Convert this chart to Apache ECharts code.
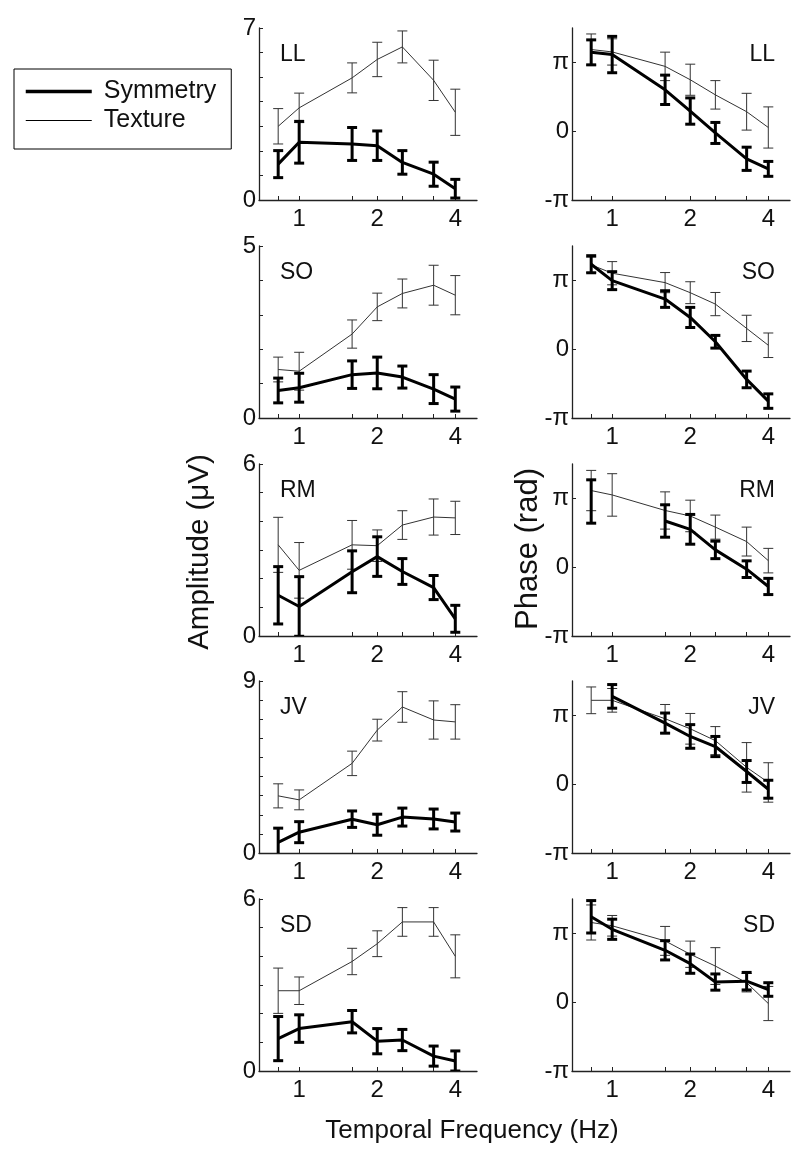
<!DOCTYPE html>
<html><head><meta charset="utf-8">
<script src="https://cdn.jsdelivr.net/npm/echarts@6/dist/echarts.min.js"></script>
<style>html,body{margin:0;padding:0;background:#fff}#c{width:800px;height:1163px}</style>
</head><body><div id="c"></div>
<script>
// ---------- data ----------
const FREQS = [0.83, 1, 1.6, 2, 2.5, 3.3, 4];          // Hz
const X_TICK_LABELS = [1, 2, 4];
const SUBJECTS = ['LL', 'SO', 'RM', 'JV', 'SD'];
const AMP_MAX = [7, 5, 6, 9, 6];
const PHASE_TICKS = [-Math.PI, 0, Math.PI];
const PHASE_TICK_LABELS = ['-π', '0', 'π'];
const SERIES_NAMES = ['Symmetry', 'Texture'];

// amplitude (µV): mean and error
const LL_AMP_SYM = [1.46, 2.35, 2.28, 2.21, 1.53, 1.05, 0.46];
const LL_AMP_SYM_ERR = [0.55, 0.85, 0.67, 0.60, 0.48, 0.49, 0.38];
const LL_AMP_TEX = [3.00, 3.75, 4.97, 5.72, 6.23, 4.87, 3.57];
const LL_AMP_TEX_ERR = [0.72, 0.60, 0.61, 0.70, 0.65, 0.82, 0.94];

const SO_AMP_SYM = [0.80, 0.88, 1.26, 1.31, 1.19, 0.84, 0.55];
const SO_AMP_SYM_ERR = [0.36, 0.42, 0.40, 0.46, 0.32, 0.42, 0.35];
const SO_AMP_TEX = [1.41, 1.36, 2.44, 3.23, 3.62, 3.86, 3.57];
const SO_AMP_TEX_ERR = [0.36, 0.55, 0.41, 0.40, 0.42, 0.58, 0.57];

const RM_AMP_SYM = [1.42, 1.03, 2.24, 2.77, 2.25, 1.69, 0.60];
const RM_AMP_SYM_ERR = [1.00, 1.04, 0.73, 0.69, 0.45, 0.42, 0.47];
const RM_AMP_TEX = [3.18, 2.29, 3.18, 3.15, 3.87, 4.15, 4.12];
const RM_AMP_TEX_ERR = [0.96, 0.97, 0.85, 0.55, 0.50, 0.63, 0.58];

const JV_AMP_SYM = [0.56, 1.09, 1.77, 1.48, 1.88, 1.78, 1.62];
const JV_AMP_SYM_ERR = [0.74, 0.55, 0.43, 0.55, 0.47, 0.52, 0.47];
const JV_AMP_TEX = [2.99, 2.78, 4.69, 6.43, 7.64, 6.96, 6.86];
const JV_AMP_TEX_ERR = [0.63, 0.52, 0.64, 0.57, 0.80, 1.00, 0.90];

const SD_AMP_SYM = [1.13, 1.48, 1.72, 1.04, 1.08, 0.52, 0.35];
const SD_AMP_SYM_ERR = [0.77, 0.48, 0.39, 0.44, 0.37, 0.35, 0.35];
const SD_AMP_TEX = [2.80, 2.80, 3.82, 4.44, 5.20, 5.20, 4.00];
const SD_AMP_TEX_ERR = [0.79, 0.48, 0.46, 0.45, 0.50, 0.50, 0.75];

// phase (rad): mean and error
const LL_PH_SYM = [3.60, 3.50, 1.89, 0.92, -0.08, -1.26, -1.72];
const LL_PH_SYM_ERR = [0.57, 0.83, 0.67, 0.60, 0.48, 0.53, 0.34];
const LL_PH_TEX = [3.73, 3.62, 2.96, 2.35, 1.66, 0.89, 0.17];
const LL_PH_TEX_ERR = [0.71, 0.60, 0.65, 0.71, 0.65, 0.84, 0.94];

const SO_PH_SYM = [3.88, 3.13, 2.29, 1.45, 0.34, -1.38, -2.37];
const SO_PH_SYM_ERR = [0.39, 0.41, 0.38, 0.46, 0.29, 0.38, 0.33];
const SO_PH_TEX = [3.85, 3.47, 3.04, 2.58, 2.06, 0.95, 0.18];
const SO_PH_TEX_ERR = [0.35, 0.53, 0.46, 0.50, 0.53, 0.60, 0.56];

const RM_PH_SYM = [3.00, null, 2.11, 1.73, 0.79, -0.09, -0.88];
const RM_PH_SYM_ERR = [0.99, null, 0.74, 0.68, 0.40, 0.38, 0.37];
const RM_PH_TEX = [3.50, 3.30, 2.59, 2.34, 1.83, 1.17, 0.30];
const RM_PH_TEX_ERR = [0.92, 0.97, 0.85, 0.72, 0.55, 0.66, 0.56];

const JV_PH_SYM = [null, 4.01, 2.79, 2.18, 1.72, 0.58, -0.23];
const JV_PH_SYM_ERR = [null, 0.54, 0.46, 0.54, 0.46, 0.50, 0.41];
const JV_PH_TEX = [3.83, 3.83, 2.99, 2.53, 1.99, 0.77, 0.08];
const JV_PH_TEX_ERR = [0.61, 0.54, 0.65, 0.70, 0.64, 1.13, 0.90];

const SD_PH_SYM = [3.90, 3.33, 2.37, 1.76, 0.92, 0.96, 0.58];
const SD_PH_SYM_ERR = [0.74, 0.46, 0.44, 0.44, 0.37, 0.40, 0.31];
const SD_PH_TEX = [3.64, 3.49, 2.80, 2.19, 1.65, 0.89, -0.06];
const SD_PH_TEX_ERR = [0.80, 0.47, 0.66, 0.60, 0.84, 0.42, 0.78];

const AMP = [
  [LL_AMP_SYM, LL_AMP_SYM_ERR, LL_AMP_TEX, LL_AMP_TEX_ERR],
  [SO_AMP_SYM, SO_AMP_SYM_ERR, SO_AMP_TEX, SO_AMP_TEX_ERR],
  [RM_AMP_SYM, RM_AMP_SYM_ERR, RM_AMP_TEX, RM_AMP_TEX_ERR],
  [JV_AMP_SYM, JV_AMP_SYM_ERR, JV_AMP_TEX, JV_AMP_TEX_ERR],
  [SD_AMP_SYM, SD_AMP_SYM_ERR, SD_AMP_TEX, SD_AMP_TEX_ERR]
];
const PHASE = [
  [LL_PH_SYM, LL_PH_SYM_ERR, LL_PH_TEX, LL_PH_TEX_ERR],
  [SO_PH_SYM, SO_PH_SYM_ERR, SO_PH_TEX, SO_PH_TEX_ERR],
  [RM_PH_SYM, RM_PH_SYM_ERR, RM_PH_TEX, RM_PH_TEX_ERR],
  [JV_PH_SYM, JV_PH_SYM_ERR, JV_PH_TEX, JV_PH_TEX_ERR],
  [SD_PH_SYM, SD_PH_SYM_ERR, SD_PH_TEX, SD_PH_TEX_ERR]
];

// ---------- layout / style ----------
const FONT = '"Liberation Sans", Arial, Helvetica, sans-serif';
const COL_LEFT = [259, 572];
const GRID_W = 218;
const ROW_TOP = [28, 246, 464, 681, 899];
const GRID_H = 172;
const X_MIN = 0.7, X_MAX = 4.85;
const AXIS_COLOR = '#222';
const TEXT_COLOR = '#111';
const SYM_STYLE = { color: '#000', width: 3 };
const TEX_STYLE = { color: '#333', width: 1 };

function errRender(st) {
  return function (params, api) {
    const x = api.value(0);
    const p1 = api.coord([x, api.value(1)]);
    const p2 = api.coord([x, api.value(2)]);
    const hw = 5;
    const style = { stroke: st.color, lineWidth: st.width };
    return {
      type: 'group',
      children: [
        { type: 'line', shape: { x1: p1[0], y1: p1[1], x2: p2[0], y2: p2[1] }, style },
        { type: 'line', shape: { x1: p1[0] - hw, y1: p1[1], x2: p1[0] + hw, y2: p1[1] }, style },
        { type: 'line', shape: { x1: p2[0] - hw, y1: p2[1], x2: p2[0] + hw, y2: p2[1] }, style }
      ]
    };
  };
}

const grids = [], xAxes = [], yAxes = [], series = [], titles = [];
let idx = 0;
SUBJECTS.forEach((subj, r) => {
  [0, 1].forEach(c => {
    const i = idx++;
    grids.push({ left: COL_LEFT[c], top: ROW_TOP[r], width: GRID_W, height: GRID_H, outerBoundsMode: 'none', containLabel: false });
    xAxes.push({
      type: 'value', gridIndex: i,
      min: Math.log2(X_MIN), max: Math.log2(X_MAX),
      axisLine: { onZero: false, lineStyle: { color: AXIS_COLOR, width: 1.3 } },
      axisTick: { inside: true, length: 4, customValues: FREQS.map(Math.log2), lineStyle: { color: AXIS_COLOR, width: 1 } },
      axisLabel: {
        customValues: X_TICK_LABELS.map(Math.log2),
        formatter: v => String(X_TICK_LABELS[X_TICK_LABELS.map(Math.log2).findIndex(t => Math.abs(t - v) < 1e-6)]),
        fontSize: 24, fontFamily: FONT, color: TEXT_COLOR, margin: 7
      },
      splitLine: { show: false }
    });
    if (c === 0) {
      const M = AMP_MAX[r];
      yAxes.push({
        type: 'value', gridIndex: i, min: 0, max: M, interval: 1,
        axisLine: { show: true, onZero: false, lineStyle: { color: AXIS_COLOR, width: 1.3 } },
        axisTick: { show: true, inside: true, length: 4, lineStyle: { color: AXIS_COLOR, width: 1 } },
        axisLabel: { customValues: [0, M], fontSize: 24, fontFamily: FONT, color: TEXT_COLOR, margin: 3 },
        splitLine: { show: false }
      });
    } else {
      yAxes.push({
        type: 'value', gridIndex: i, min: -Math.PI, max: 1.5 * Math.PI, interval: Math.PI,
        axisLine: { show: true, onZero: false, lineStyle: { color: AXIS_COLOR, width: 1.3 } },
        axisTick: { show: true, inside: true, length: 4, customValues: PHASE_TICKS, lineStyle: { color: AXIS_COLOR, width: 1 } },
        axisLabel: {
          customValues: PHASE_TICKS,
          formatter: v => PHASE_TICK_LABELS[PHASE_TICKS.findIndex(t => Math.abs(t - v) < 1e-6)],
          fontSize: 24, fontFamily: FONT, color: TEXT_COLOR, margin: 3
        },
        splitLine: { show: false }
      });
    }
    const set = c === 0 ? AMP[r] : PHASE[r];
    const [sym, symErr, tex, texErr] = set;
    const lineData = vals => FREQS.map((f, k) => [Math.log2(f), vals[k] == null ? '-' : vals[k]]);
    const errData = (vals, errs) => FREQS.map((f, k) => vals[k] == null ? null : [Math.log2(f), vals[k] - errs[k], vals[k] + errs[k]]).filter(Boolean);
    // texture first (below), then symmetry
    series.push({
      name: 'Texture', type: 'line', xAxisIndex: i, yAxisIndex: i, data: lineData(tex),
      symbol: 'none', lineStyle: { color: TEX_STYLE.color, width: TEX_STYLE.width }, itemStyle: { color: TEX_STYLE.color },
      z: 2, silent: true, animation: false
    });
    series.push({
      name: 'Texture err', type: 'custom', xAxisIndex: i, yAxisIndex: i, data: errData(tex, texErr),
      encode: { x: 0, y: [1, 2] }, renderItem: errRender(TEX_STYLE), clip: true, z: 2, silent: true, animation: false
    });
    series.push({
      name: 'Symmetry', type: 'line', xAxisIndex: i, yAxisIndex: i, data: lineData(sym),
      symbol: 'none', lineStyle: { color: SYM_STYLE.color, width: SYM_STYLE.width }, itemStyle: { color: SYM_STYLE.color },
      z: 3, silent: true, animation: false
    });
    series.push({
      name: 'Symmetry err', type: 'custom', xAxisIndex: i, yAxisIndex: i, data: errData(sym, symErr),
      encode: { x: 0, y: [1, 2] }, renderItem: errRender(SYM_STYLE), clip: true, z: 3, silent: true, animation: false
    });
    const t = {
      text: subj, top: ROW_TOP[r] + 15, padding: 0,
      textStyle: { fontSize: 23, fontWeight: 'normal', fontFamily: FONT, color: TEXT_COLOR }
    };
    if (c === 0) t.left = COL_LEFT[0] + 21; else t.right = 800 - (COL_LEFT[1] + GRID_W - 15);
    titles.push(t);
  });
});

const option = {
  backgroundColor: '#fff',
  animation: false,
  title: titles,
  legend: {
    data: [
      { name: SERIES_NAMES[0], lineStyle: { width: 3.5, color: '#000' } },
      { name: SERIES_NAMES[1], lineStyle: { width: 1, color: '#000' } }
    ],
    orient: 'vertical', left: 14, top: 69,
    padding: [10, 15, 16, 10], itemWidth: 66, itemHeight: 26, itemGap: 4,
    borderColor: '#000', borderWidth: 1, borderRadius: 0, selectedMode: false,
    itemStyle: { opacity: 0, color: 'transparent', borderWidth: 0 },
    textStyle: { fontSize: 25, fontFamily: FONT, color: TEXT_COLOR, padding: [0, 0, 0, 7] }
  },
  grid: grids, xAxis: xAxes, yAxis: yAxes, series: series,
  graphic: [
    { type: 'text', x: 200, y: 552, rotation: Math.PI / 2,
      style: { text: 'Amplitude (μV)', fontSize: 29.5, fontFamily: FONT, fill: TEXT_COLOR, textAlign: 'center', textVerticalAlign: 'middle' } },
    { type: 'text', x: 528, y: 549, rotation: Math.PI / 2,
      style: { text: 'Phase (rad)', fontSize: 31, fontFamily: FONT, fill: TEXT_COLOR, textAlign: 'center', textVerticalAlign: 'middle' } },
    { type: 'text', x: 472, y: 1131,
      style: { text: 'Temporal Frequency (Hz)', fontSize: 26, fontFamily: FONT, fill: TEXT_COLOR, textAlign: 'center', textVerticalAlign: 'middle' } }
  ]
};
const chart = echarts.init(document.getElementById('c'), null, { renderer: 'canvas' });
chart.setOption(option);
</script>
</body></html>
